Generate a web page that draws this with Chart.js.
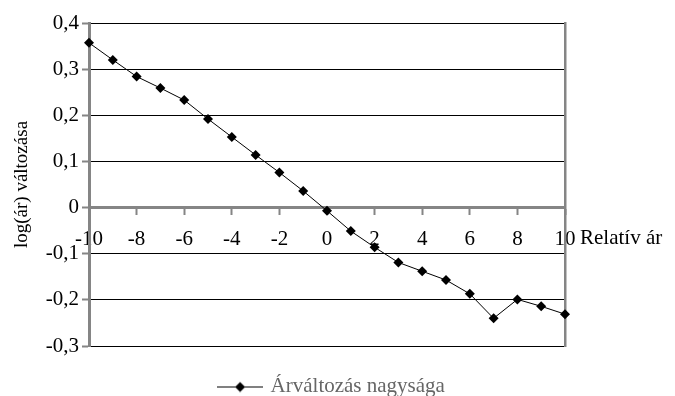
<!DOCTYPE html>
<html>
<head>
<meta charset="utf-8">
<script src="https://cdn.jsdelivr.net/npm/chart.js@4/dist/chart.umd.min.js"></script>
<style>
  html, body { margin: 0; padding: 0; background: #fff; }
  #wrap { width: 675px; height: 396px; }
</style>
</head>
<body>
<div id="wrap"><canvas id="chart" width="675" height="396"></canvas></div>
<script>
// Relative price vs. change of log(price)
const relativePrice = [-10, -9, -8, -7, -6, -5, -4, -3, -2, -1, 0, 1, 2, 3, 4, 5, 6, 7, 8, 9, 10];
const logPriceChange = [0.357, 0.320, 0.284, 0.259, 0.233, 0.192, 0.153, 0.114, 0.076, 0.036, -0.007,
                        -0.051, -0.086, -0.119, -0.138, -0.157, -0.187, -0.240, -0.199, -0.214, -0.231];
const xTickLabels = ['-10', '-8', '-6', '-4', '-2', '0', '2', '4', '6', '8', '10'];
const yTickLabels = ['-0,3', '-0,2', '-0,1', '0', '0,1', '0,2', '0,3', '0,4'];
const seriesName = 'Árváltozás nagysága';
const xAxisTitle = 'Relatív ár';
const yAxisTitle = 'log(ár) változása';

const FONT = 'Liberation Serif, "Times New Roman", serif';
const AXIS_GREY = '#858585';

// Legend symbol: a short line with a diamond in the middle
function legendSymbol() {
  const c = document.createElement('canvas');
  c.width = 46; c.height = 12;
  const g = c.getContext('2d');
  g.strokeStyle = '#000';
  g.lineWidth = 1;
  g.beginPath();
  g.moveTo(0, 6.5); g.lineTo(46, 6.5);
  g.stroke();
  g.fillStyle = '#000';
  g.beginPath();
  g.moveTo(23, 1.5); g.lineTo(28, 6.5); g.lineTo(23, 11.5); g.lineTo(18, 6.5);
  g.closePath();
  g.fill();
  return c;
}
const symbol = legendSymbol();

// x axis title, placed to the right of the axis end
const xTitlePlugin = {
  id: 'xTitleRight',
  afterDraw(chart) {
    const { ctx, chartArea } = chart;
    const y0 = chart.scales.y.getPixelForValue(0);
    ctx.save();
    ctx.fillStyle = '#000';
    ctx.font = '21px ' + FONT;
    ctx.textAlign = 'left';
    ctx.textBaseline = 'middle';
    ctx.fillText(xAxisTitle, chartArea.right + 15, y0 + 31);
    ctx.restore();
  }
};

new Chart(document.getElementById('chart'), {
  type: 'line',
  data: {
    datasets: [{
      label: seriesName,
      data: relativePrice.map((x, i) => ({ x: x, y: logPriceChange[i] })),
      borderColor: '#000',
      borderWidth: 1,
      backgroundColor: '#000',
      pointStyle: 'rectRot',
      pointRadius: 5,
      pointBorderWidth: 0,
      pointBackgroundColor: '#000',
      tension: 0,
      clip: false,
      yAxisID: 'y'
    }]
  },
  options: {
    responsive: false,
    animation: false,
    events: [],
    layout: { padding: { left: 0, right: 10, top: 23, bottom: -11 } },
    plugins: {
      tooltip: { enabled: false },
      legend: {
        position: 'bottom',
        title: { display: true, text: ' ', font: { size: 10 }, padding: 5 },
        labels: {
          font: { family: FONT, size: 21 },
          color: '#000',
          usePointStyle: true,
          pointStyleWidth: 40,
          boxHeight: 12,
          padding: 8,
          generateLabels: () => [{
            text: seriesName,
            pointStyle: symbol,
            fillStyle: '#000',
            strokeStyle: '#000',
            lineWidth: 0,
            datasetIndex: 0
          }]
        }
      }
    },
    scales: {
      x: {
        type: 'linear',
        position: { y: 0 },
        min: -10,
        max: 10,
        ticks: {
          stepSize: 2,
          padding: 13,
          maxRotation: 0,
          autoSkip: false,
          color: '#000',
          font: { family: FONT, size: 21 },
          callback: (v, i) => xTickLabels[i]
        },
        grid: {
          drawOnChartArea: false,
          drawTicks: true,
          tickLength: 6,
          tickColor: AXIS_GREY,
          tickWidth: 2
        },
        border: { display: true, color: AXIS_GREY, width: 3 }
      },
      y: {
        position: 'left',
        min: -0.3,
        max: 0.4,
        ticks: {
          stepSize: 0.1,
          padding: 3,
          color: '#000',
          font: { family: FONT, size: 21 },
          callback: (v, i) => yTickLabels[i]
        },
        grid: {
          color: ctx => (ctx.tick && Math.abs(ctx.tick.value) < 1e-9) ? 'rgba(0,0,0,0)' : '#000',
          lineWidth: 1,
          drawTicks: true,
          tickLength: 7,
          tickColor: AXIS_GREY,
          tickWidth: 2
        },
        border: { display: true, color: AXIS_GREY, width: 3 },
        title: {
          display: true,
          text: yAxisTitle,
          color: '#000',
          font: { family: FONT, size: 19 },
          padding: { top: 11, bottom: 0 }
        },
        afterFit: scale => { scale.width = 89; }
      },
      // right frame line of the plot area; reserves room for the x title
      frame: {
        type: 'linear',
        position: 'right',
        min: 0,
        max: 1,
        ticks: { display: false },
        grid: { display: false, drawTicks: false },
        border: { display: true, color: AXIS_GREY, width: 2.5 },
        afterFit: scale => { scale.width = 100; }
      }
    }
  },
  plugins: [xTitlePlugin]
});
</script>
</body>
</html>
